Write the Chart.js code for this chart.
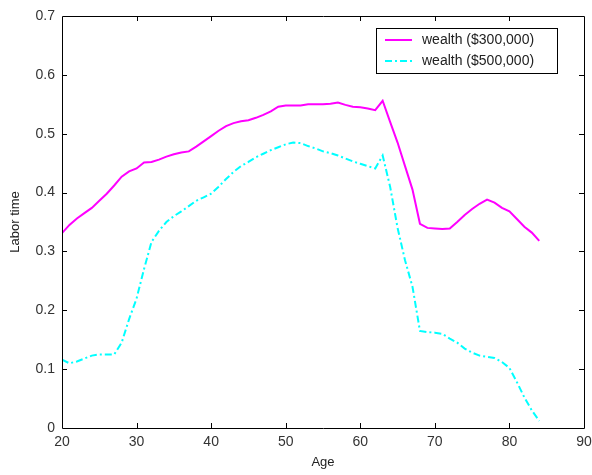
<!DOCTYPE html>
<html>
<head>
<meta charset="utf-8">
<script src="https://cdn.jsdelivr.net/npm/chart.js@4.4.1/dist/chart.umd.min.js"></script>
<style>
html,body{margin:0;padding:0;background:#fff;}
#wrap{width:592px;height:475px;}
</style>
</head>
<body>
<div id="wrap"><canvas id="c" width="592" height="475"></canvas></div>
<script>
const ages = [20,21,22,23,24,25,26,27,28,29,30,31,32,33,34,35,36,37,38,39,40,41,42,43,44,45,46,47,48,49,50,51,52,53,54,55,56,57,58,59,60,61,62,63,64,65,66,67,68,69,70,71,72,73,74,75,76,77,78,79,80,81,82,83,84];
const wealth300 = [0.331,0.345,0.356,0.365,0.374,0.386,0.398,0.412,0.427,0.436,0.441,0.451,0.452,0.456,0.461,0.465,0.468,0.470,0.478,0.487,0.496,0.505,0.513,0.518,0.521,0.523,0.527,0.532,0.538,0.546,0.548,0.548,0.548,0.550,0.550,0.550,0.551,0.553,0.549,0.546,0.545,0.543,0.540,0.556,0.520,0.485,0.445,0.405,0.347,0.340,0.339,0.338,0.339,0.350,0.362,0.372,0.381,0.388,0.383,0.374,0.368,0.355,0.342,0.332,0.318];
const wealth500 = [0.116,0.110,0.113,0.118,0.123,0.125,0.125,0.125,0.145,0.185,0.220,0.270,0.316,0.335,0.350,0.360,0.368,0.377,0.386,0.392,0.398,0.410,0.423,0.435,0.445,0.452,0.460,0.466,0.472,0.477,0.482,0.485,0.484,0.479,0.475,0.470,0.467,0.463,0.458,0.453,0.449,0.445,0.441,0.463,0.410,0.340,0.285,0.240,0.165,0.163,0.162,0.160,0.152,0.145,0.135,0.128,0.123,0.121,0.119,0.112,0.102,0.078,0.052,0.030,0.012];
const seriesLabels = ["wealth ($300,000)", "wealth ($500,000)"];
const xTicks = [20,30,40,50,60,70,80,90];
const yTicks = [0,0.1,0.2,0.3,0.4,0.5,0.6,0.7];

const FONT = "'Liberation Sans', Arial, sans-serif";

function pts(ys){ return ages.map((a,i)=>({x:a,y:ys[i]})); }

const frameTicks = {
  id:'frameTicks',
  afterDatasetsDraw(chart){
    const {ctx, chartArea:a, scales:{x,y}} = chart;
    ctx.save();
    ctx.strokeStyle = '#000';
    ctx.lineWidth = 1;
    ctx.beginPath();
    ctx.rect(Math.round(a.left)+0.5, Math.round(a.top)+0.5, Math.round(a.right-a.left), Math.round(a.bottom-a.top));
    ctx.stroke();
    const L = 5;
    ctx.beginPath();
    xTicks.slice(1,-1).forEach(v=>{
      const px = Math.round(x.getPixelForValue(v))+0.5;
      ctx.moveTo(px, a.bottom); ctx.lineTo(px, a.bottom-L);
      ctx.moveTo(px, a.top); ctx.lineTo(px, a.top+L);
    });
    yTicks.slice(1,-1).forEach(v=>{
      const py = Math.round(y.getPixelForValue(v))+0.5;
      ctx.moveTo(a.left, py); ctx.lineTo(a.left+L, py);
      ctx.moveTo(a.right, py); ctx.lineTo(a.right-L, py);
    });
    ctx.stroke();
    // legend
    const bx=376.5, by=28.5, bw=181, bh=45;
    ctx.fillStyle='#fff';
    ctx.fillRect(bx,by,bw,bh);
    ctx.strokeStyle='#000';
    ctx.strokeRect(bx,by,bw,bh);
    const rows=[40,61];
    chart.data.datasets.forEach((ds,i)=>{
      ctx.strokeStyle=ds.borderColor;
      ctx.lineWidth=ds.borderWidth;
      ctx.setLineDash(ds.borderDash||[]);
      ctx.beginPath();
      ctx.moveTo(385,rows[i]); ctx.lineTo(412,rows[i]);
      ctx.stroke();
      ctx.setLineDash([]);
      ctx.fillStyle='#222';
      ctx.font='14px '+FONT;
      ctx.textBaseline='middle';
      ctx.textAlign='left';
      ctx.fillText(ds.label,422,rows[i]);
    });
    ctx.restore();
  }
};

new Chart(document.getElementById('c'),{
  type:'line',
  data:{datasets:[
    {label:seriesLabels[0],data:pts(wealth300),borderColor:'#ff00ff',borderWidth:2,pointRadius:0,tension:0,fill:false},
    {label:seriesLabels[1],data:pts(wealth500),borderColor:'#00ffff',borderWidth:2,borderDash:[7,3,2,3],pointRadius:0,tension:0,fill:false}
  ]},
  options:{
    responsive:false,
    animation:false,
    events:[],
    layout:{padding:{top:16,right:8,left:0,bottom:0}},
    plugins:{legend:{display:false},tooltip:{enabled:false}},
    scales:{
      x:{type:'linear',min:20,max:90,
        afterFit(s){s.height=47;s.paddingLeft=0;s.paddingRight=0;},
        afterBuildTicks(s){s.ticks=xTicks.map(v=>({value:v}));},
        grid:{display:false,drawTicks:false},border:{display:false},
        ticks:{padding:6,color:'#333',font:{family:FONT,size:14},maxRotation:0,autoSkip:false},
        title:{display:true,text:'Age',color:'#222',font:{family:FONT,size:13},padding:{top:0,bottom:5}}
      },
      y:{type:'linear',min:0,max:0.7,
        afterFit(s){s.width=62;s.paddingTop=0;s.paddingBottom=0;},
        afterBuildTicks(s){s.ticks=yTicks.map(v=>({value:v}));},
        grid:{display:false,drawTicks:false},border:{display:false},
        ticks:{padding:7,color:'#333',font:{family:FONT,size:14},callback:v=>String(+v.toFixed(1))},
        title:{display:true,text:'Labor time',color:'#222',font:{family:FONT,size:13},padding:{top:8,bottom:0}}
      }
    }
  },
  plugins:[frameTicks]
});
</script>
</body>
</html>
